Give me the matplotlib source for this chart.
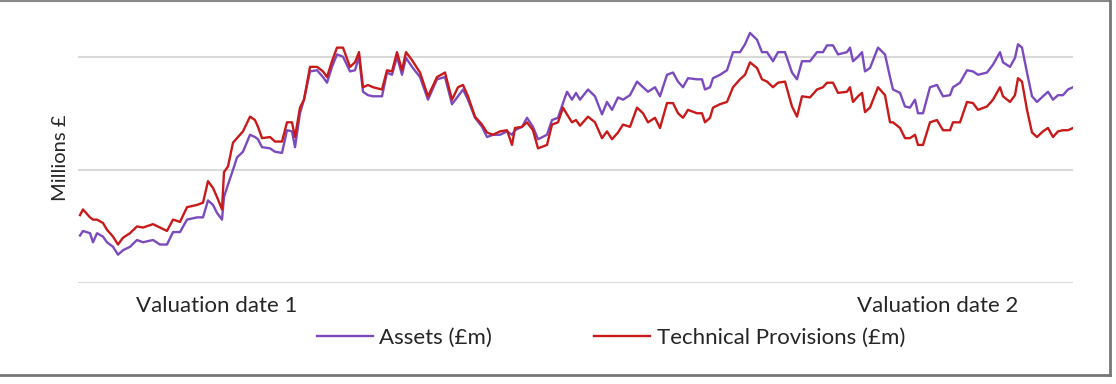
import matplotlib
matplotlib.use("Agg")
import matplotlib.pyplot as plt
from matplotlib.lines import Line2D

plt.rcParams['font.family'] = ['Lato', 'DejaVu Sans']

# trading day index from the start of the window
days = [0, 3, 10, 13, 17, 23, 27, 33, 38, 43, 50, 57, 63, 73, 80, 87, 93, 100, 107, 117,
        123, 128, 133, 137, 142, 144, 148, 153, 157, 163, 170, 175, 178, 182, 190, 195, 202, 207, 212, 215,
        220, 224, 230, 237, 243, 247, 252, 257, 263, 270, 275, 279, 283, 288, 293, 302, 307, 312, 317, 322,
        326, 332, 340, 348, 357, 365, 372, 378, 383, 388, 395, 402, 407, 413, 420, 427, 432, 435, 442, 447,
        453, 458, 467, 472, 478, 483, 487, 492, 496, 500, 508, 515, 522, 527, 532, 538, 543, 550, 557, 563,
        568, 575, 580, 587, 593, 598, 603, 608, 617, 622, 625, 630, 633, 640, 647, 653, 660, 665, 670, 677,
        682, 687, 693, 698, 705, 712, 717, 722, 730, 737, 743, 747, 753, 758, 767, 770, 773, 778, 782, 785,
        790, 798, 805, 810, 813, 820, 825, 830, 835, 838, 843, 850, 857, 863, 870, 873, 880, 887, 893, 898,
        907, 913, 920, 923, 930, 935, 938, 942, 947, 952, 957, 963, 968, 973, 978, 983, 988, 993]

assets = [242, 246, 244, 236, 244, 241, 236, 232, 225, 229, 232, 238, 236, 238, 234, 234, 245, 245, 256, 258,
          258, 273, 269, 262, 256, 276, 287, 300, 311, 316, 331, 329, 327, 320, 319, 316, 315, 335, 334, 320,
          350, 362, 387, 388, 382, 377, 391, 402, 400, 387, 388, 400, 369, 366, 365, 365, 386, 384, 400, 384,
          399, 391, 382, 362, 380, 382, 358, 365, 371, 362, 346, 338, 329, 331, 331, 334, 331, 335, 338, 346,
          338, 327, 331, 344, 346, 359, 369, 362, 368, 362, 371, 365, 349, 360, 353, 364, 362, 366, 378, 373,
          369, 373, 365, 384, 386, 378, 373, 381, 380, 380, 371, 373, 381, 384, 388, 404, 404, 411, 421, 415,
          404, 404, 396, 404, 404, 386, 380, 396, 396, 404, 404, 410, 410, 402, 404, 408, 396, 400, 404, 387,
          390, 408, 402, 382, 371, 368, 356, 355, 362, 350, 350, 373, 375, 365, 366, 373, 377, 388, 387, 384,
          386, 393, 404, 395, 391, 399, 411, 408, 386, 365, 360, 365, 369, 362, 366, 366, 371, 373]

tech_prov = [260, 265, 258, 256, 256, 253, 247, 241, 234, 240, 244, 250, 249, 252, 249, 246, 256, 254, 267, 269,
             271, 290, 284, 276, 265, 298, 303, 324, 328, 334, 347, 344, 338, 328, 329, 325, 325, 342, 342, 329,
             355, 362, 391, 391, 387, 382, 396, 408, 408, 391, 395, 404, 373, 375, 373, 371, 388, 387, 404, 388,
             404, 397, 386, 365, 382, 386, 362, 373, 375, 365, 347, 340, 333, 331, 334, 335, 322, 337, 338, 342,
             335, 319, 322, 340, 342, 355, 349, 342, 344, 339, 347, 342, 328, 334, 327, 333, 340, 338, 355, 350,
             342, 346, 337, 359, 359, 350, 346, 353, 350, 350, 342, 346, 355, 358, 360, 373, 380, 384, 395, 390,
             380, 378, 373, 377, 378, 356, 347, 365, 364, 371, 373, 377, 377, 368, 369, 373, 360, 365, 368, 351,
             355, 373, 366, 342, 342, 337, 328, 328, 331, 322, 322, 342, 344, 335, 335, 342, 342, 360, 359, 353,
             356, 362, 373, 365, 360, 366, 381, 378, 353, 333, 329, 334, 337, 329, 334, 335, 335, 337]

valuation_days = [137, 858]
valuation_labels = ['Valuation date 1', 'Valuation date 2']
gridlines = [200, 300, 400]

purple = '#7B4BBE'
red = '#C81A1A'
txt = '#262626'
fs = 16

fig = plt.figure(figsize=(11.16, 3.84), dpi=100)
ax = fig.add_axes([78 / 1116, 1 - 283 / 384, (1073 - 78) / 1116, (283 - 25) / 384])

a_line, = ax.plot(days, assets, color=purple, lw=1.7, label='Assets (£m)')
t_line, = ax.plot(days, tech_prov, color=red, lw=1.7, label='Technical Provisions (£m)')

for g in gridlines:
    ax.axhline(g, color='#d9d9d9', lw=1.5, zorder=0)

ax.set_xlim(-2, 993)
ax.set_ylim(200, 428)
ax.set_yticks([])
ax.set_xticks(valuation_days)
ax.set_xticklabels(valuation_labels, fontsize=fs, color=txt)
ax.tick_params(axis='x', length=0, pad=9.5)
for s in ax.spines.values():
    s.set_visible(False)

fig.text(61 / 1116, 1 - 158 / 384, 'Millions £', rotation=90, ha='center', va='center',
         fontsize=14.5, color=txt)

fig.legend(handles=[a_line, t_line], loc='center', bbox_to_anchor=(611 / 1116, 1 - 338 / 384),
           ncol=2, frameon=False, fontsize=fs, handlelength=2.5, handletextpad=0.3, columnspacing=4.6,
           labelcolor=txt)

# outer chart border
fig.add_artist(Line2D([0, 1110 / 1116], [1 - 1 / 384, 1 - 1 / 384], color='#888888', lw=1.5))
fig.add_artist(Line2D([1110 / 1116, 1110 / 1116], [1 - 1 / 384, 1 - 375 / 384], color='#777777', lw=2))
fig.add_artist(Line2D([0, 1110 / 1116], [1 - 375 / 384, 1 - 375 / 384], color='#777777', lw=2))

fig.savefig('out.png', dpi=100)
